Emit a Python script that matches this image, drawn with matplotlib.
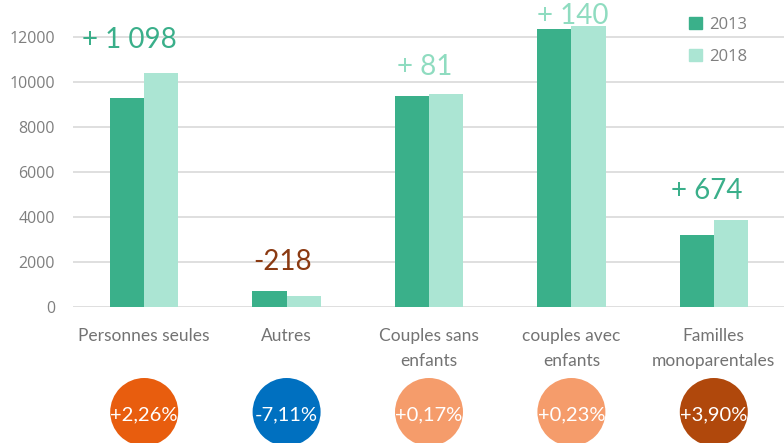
import matplotlib
matplotlib.use("Agg")
import matplotlib.pyplot as plt
from matplotlib.patches import Patch
import numpy as np

categories = ["Personnes seules", "Autres", "Couples sans\nenfants",
              "couples avec\nenfants", "Familles\nmonoparentales"]
values_2013 = [9290, 700, 9380, 12340, 3195]
values_2018 = [10388, 482, 9461, 12480, 3869]
diff_labels = ["+ 1 098", "-218", "+ 81", "+ 140", "+ 674"]
diff_colors = ["#3aaf8a", "#8b3a12", "#8fdcc0", "#8fdcc0", "#3aaf8a"]
pct_labels = ["+2,26%", "-7,11%", "+0,17%", "+0,23%", "+3,90%"]
pct_colors = ["#e85d0e", "#0070c0", "#f59c6b", "#f59c6b", "#b0480c"]

c2013 = "#3ab08a"
c2018 = "#abe5d3"
grey = "#7f7f7f"

W, H = 784, 443
fig = plt.figure(figsize=(W / 100, H / 100), dpi=100)

# main bar axes, placed in pixels
left, right, zero_y = 73, 785, 306.7
ax = fig.add_axes([left / W, (H - zero_y) / H, (right - left) / W, zero_y / H])

x = np.arange(len(categories))
bw = 0.24
ax.bar(x - bw / 2, values_2013, bw, color=c2013, label="2013", zorder=3)
ax.bar(x + bw / 2, values_2018, bw, color=c2018, label="2018", zorder=3)

ax.set_xlim(-0.5, 4.5)
ax.set_ylim(0, 13631)
ax.set_yticks(np.arange(0, 12001, 2000))
ax.set_yticklabels([str(v) for v in range(0, 12001, 2000)])
ax.yaxis.grid(True, color="#d9d9d9", linewidth=1.2, zorder=0)
for s in ax.spines.values():
    s.set_visible(False)
ax.tick_params(axis="y", length=0, pad=13, labelsize=11.5, labelcolor=grey)
ax.tick_params(axis="x", length=0, pad=15)
for lab in ax.get_yticklabels():
    lab.set_fontfamily("Open Sans")

ax.set_xticks(x)
ax.set_xticklabels(categories, fontsize=12.5, color="#737373",
                   fontfamily="Lato", linespacing=1.7)

# difference annotations above each group
offsets = [(-15, 33), (-4, 29), (-4, 27), (1, 10), (-7, 29)]
for i in range(len(categories)):
    top = max(values_2013[i], values_2018[i])
    ax.annotate(diff_labels[i], (x[i], top), xytext=offsets[i],
                textcoords="offset pixels", ha="center", va="center",
                fontsize=20, color=diff_colors[i], fontfamily="Lato",
                annotation_clip=False)

handles = [Patch(color=c2013, label="2013"), Patch(color=c2018, label="2018")]
fig.legend(handles=handles, loc="upper left",
           bbox_to_anchor=(689 / W, 1 - 17 / H), frameon=False,
           handlelength=0.75, handleheight=0.75,
           handletextpad=0.45, labelspacing=0.95, borderpad=0,
           borderaxespad=0, labelcolor=grey,
           prop={"family": "Open Sans", "size": 12})

# percentage circles below the labels
ax2 = fig.add_axes([left / W, -3 / H, (right - left) / W, 68 / H])
ax2.set_xlim(-0.5, 4.5)
ax2.set_ylim(-1, 1)
ax2.axis("off")
ax2.scatter(x, np.zeros(len(x)), s=(68 * 0.72) ** 2, c=pct_colors,
            clip_on=False, linewidths=0)
for i in range(len(x)):
    ax2.text(x[i], -0.08, pct_labels[i], ha="center", va="center",
             color="white", fontsize=14.5, fontfamily="Lato",
             clip_on=False)

fig.savefig("out.png", dpi=100)
